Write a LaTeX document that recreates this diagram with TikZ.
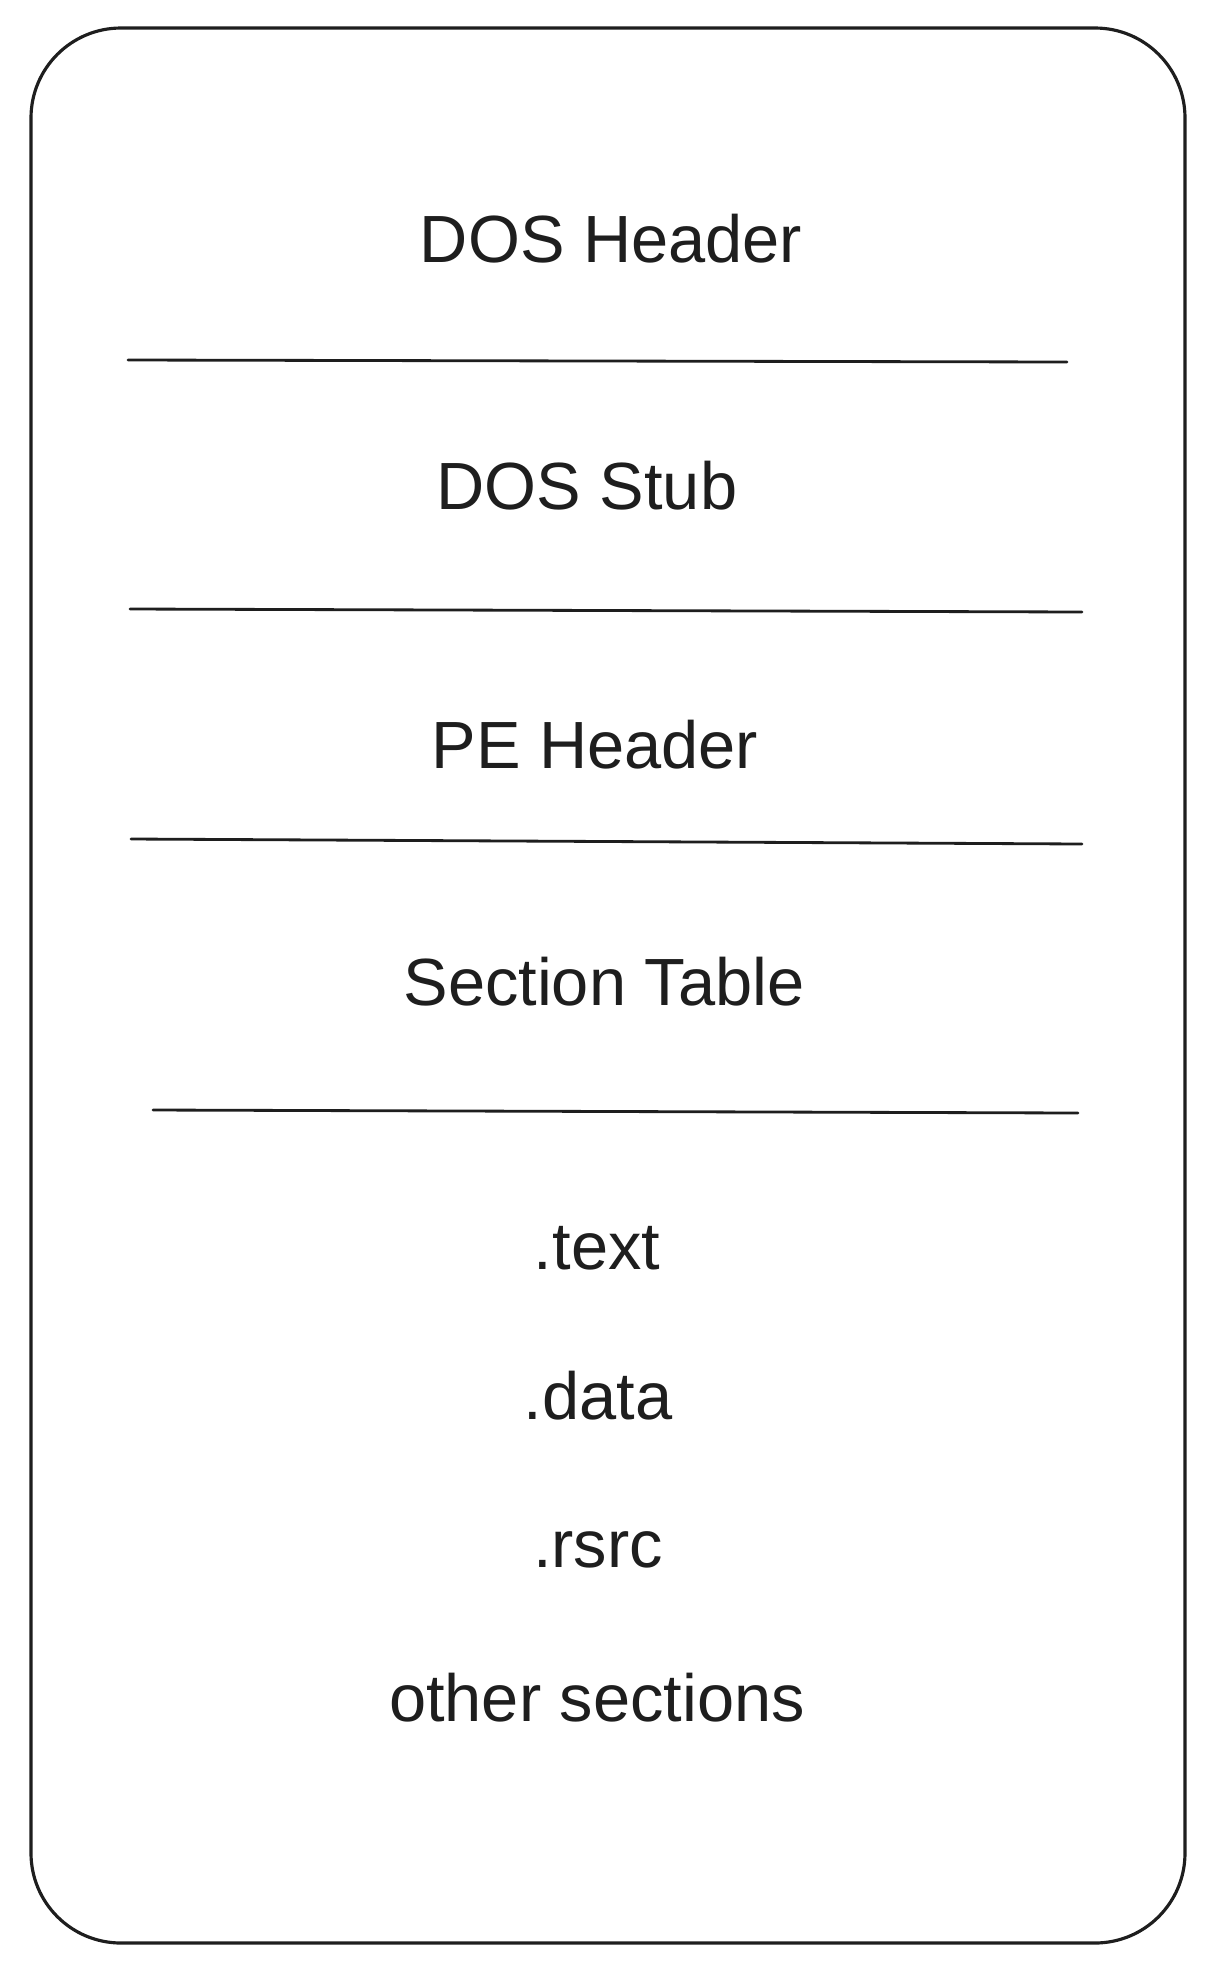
\documentclass[tikz,border=0pt]{standalone}
\usepackage{fontspec}
\setmainfont{Liberation Sans}
\usetikzlibrary{calc}
\definecolor{ink}{HTML}{1E1E1E}
\tikzset{
    part/.style={text=ink, font=\fontsize{38}{45}\selectfont, inner sep=0pt},
    sep/.style={draw=ink, line width=1.6pt, line cap=round},
}

\begin{document}
\begin{tikzpicture}[x=0.02cm, y=-0.02cm]
            \useasboundingbox[fill=white] (0,0) rectangle (1215,1972);
            % outer frame of the file
            \draw[ink, line width=1.8pt, rounded corners=1.8cm] (31,28) rectangle (1185,1943);
            % separators between the parts
            \coordinate (L1a) at (128,360);
            \coordinate (L1b) at (1067,362);
            \coordinate (L2a) at (130,609);
            \coordinate (L2b) at (1082,612);
            \coordinate (L3a) at (131,839);
            \coordinate (L3b) at (1082,844);
            \coordinate (L4a) at (153,1110);
            \coordinate (L4b) at (1078,1113);
            \draw[sep] (L1a)--(L1b);
            \draw[sep] (L2a)--(L2b);
            \draw[sep] (L3a)--(L3b);
            \draw[sep] (L4a)--(L4b);
            % parts
            \node[part] (dosheader) at (611,239) {DOS Header};
            \node[part] (dosstub) at (587,486) {DOS Stub};
            \node[part] (peheader) at (595,745) {PE Header};
            \node[part] (sectab) at (604,982) {Section Table};
            % sections
            \node[part] (text) at (597,1248) {.text};
            \node[part] (data) at (598,1396) {.data};
            \node[part] (rsrc) at (598,1550) {.rsrc};
            \node[part] (other) at (597,1698) {other sections};
        \end{tikzpicture}
\end{document}
